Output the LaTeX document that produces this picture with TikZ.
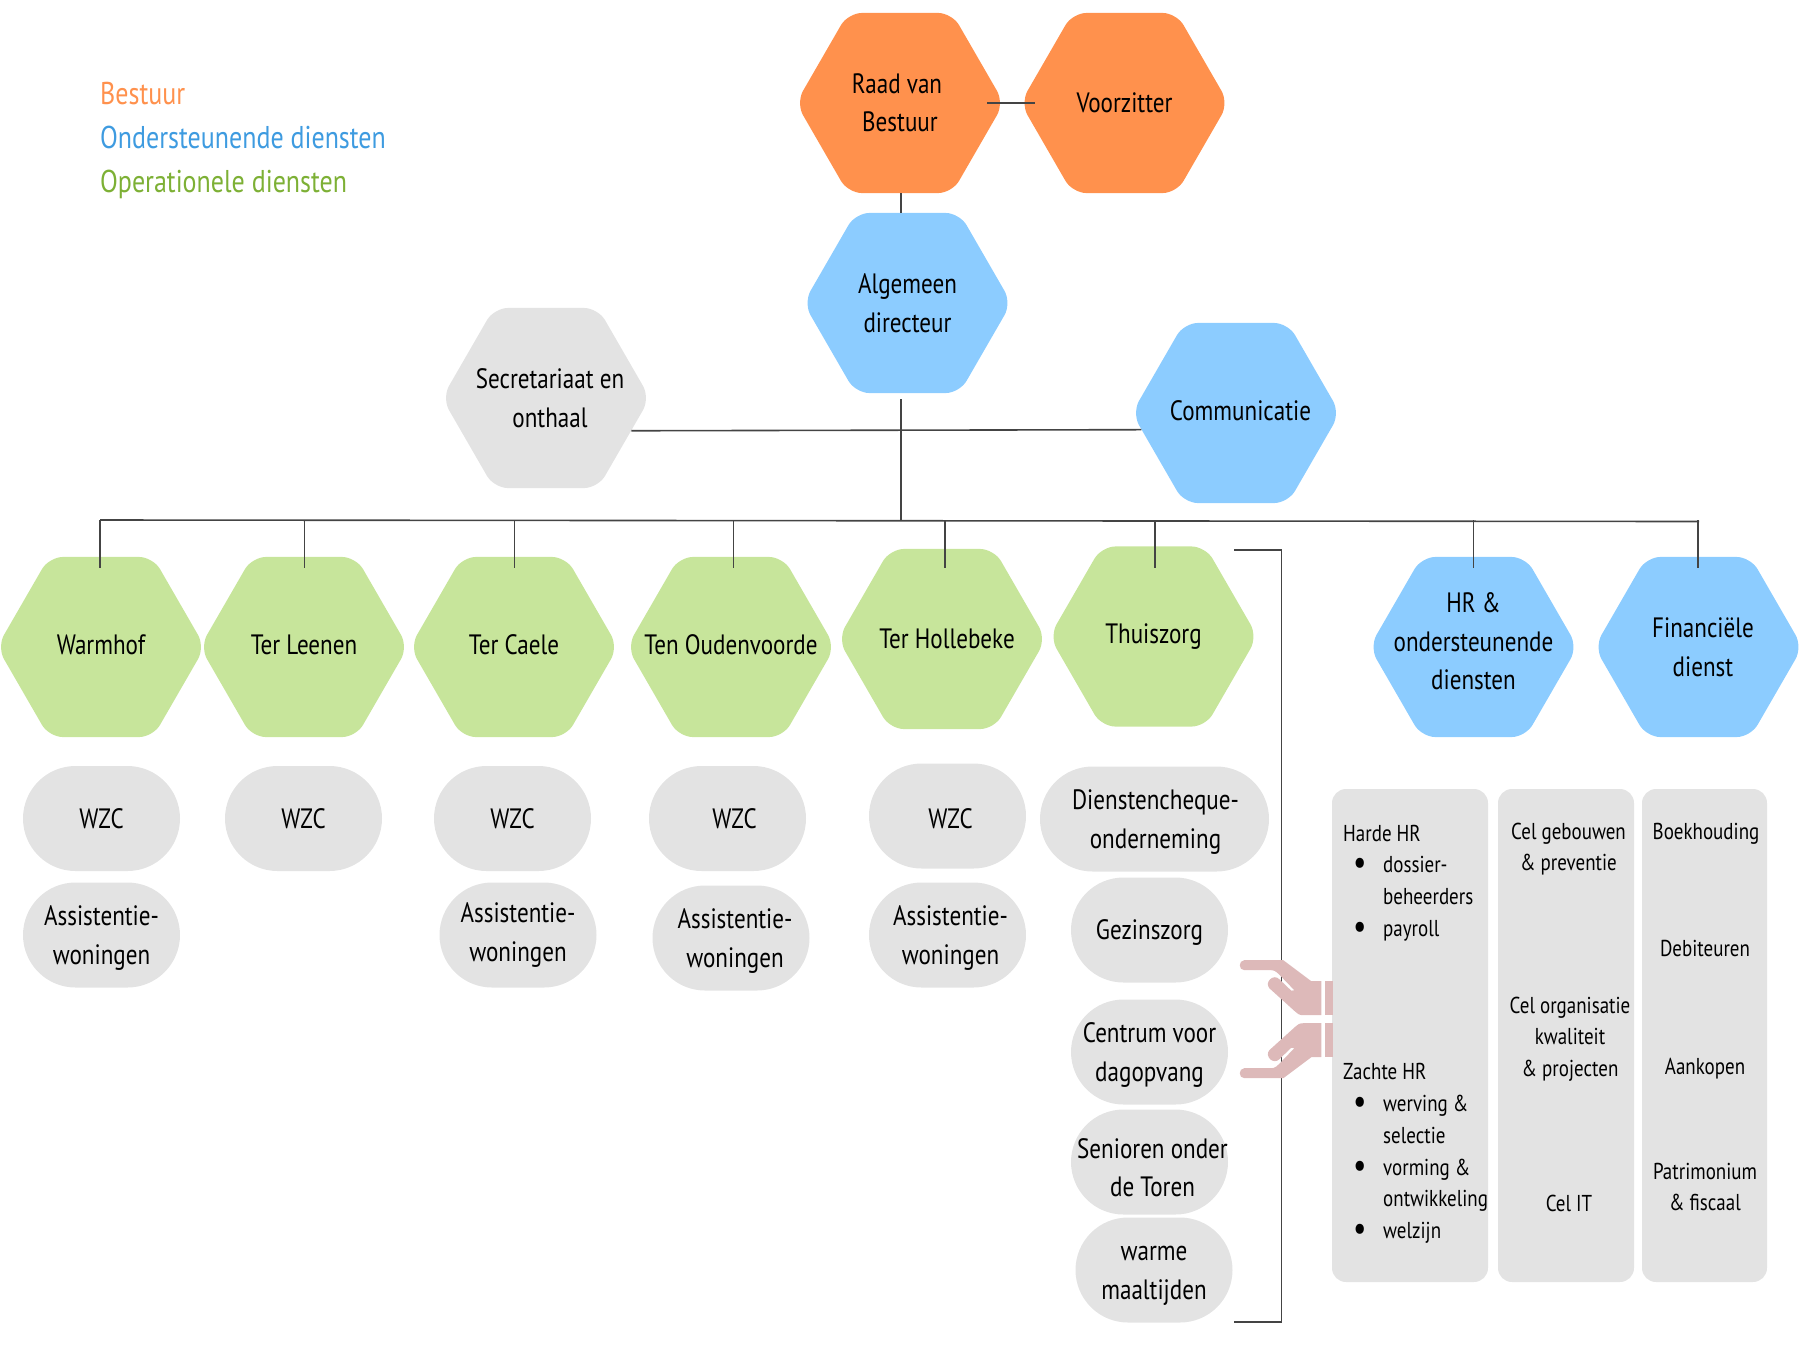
\documentclass[tikz,border=0pt]{standalone}
\usepackage{fontspec}
\setmainfont[FakeStretch=0.825]{PT Sans}
\usetikzlibrary{shapes.geometric,shapes.misc}

\definecolor{bestuurkleur}{HTML}{FF914D}
\definecolor{dienstkleur}{HTML}{8CCCFF}
\definecolor{zorgkleur}{HTML}{C7E59B}
\definecolor{grijskleur}{HTML}{E3E3E3}
\definecolor{lijnkleur}{HTML}{444444}
\definecolor{handkleur}{HTML}{DDB9B9}
\definecolor{legblauw}{HTML}{3E9BE0}
\definecolor{leggroen}{HTML}{7DB035}

\newcommand{\hrbullet}{\hspace*{10pt}\makebox[30pt][l]{\fontsize{36}{20}\selectfont\raisebox{-2pt}{\textbullet}}}
\newcommand{\hrvervolg}{\hspace*{40pt}}

\tikzset{
  hexnode/.style={regular polygon, regular polygon sides=6,
    minimum size=208pt, inner sep=-30pt, rounded corners=14pt, align=center,
    font=\fontsize{28}{38.5}\selectfont},
  pillnode/.style={rounded rectangle, fill=grijskleur, minimum width=157pt, minimum height=105pt,
    inner sep=0pt, align=center, text depth=0pt, font=\fontsize{28}{38.5}\selectfont},
  panelnode/.style={draw=none, fill=grijskleur, rounded corners=14pt, minimum height=493pt, inner sep=0pt},
  paneltext/.style={inner sep=0pt, align=center, font=\fontsize{23}{31.7}\selectfont},
  legendtext/.style={anchor=base west, inner sep=0pt, font=\fontsize{31.5}{36}\selectfont},
  conn/.style={draw=lijnkleur, line width=1.6pt},
  hand/.pic={
    \fill[handkleur] (-89,-59) -- (-50,-59) -- (-22,-38) -- (-12,-38) -- (-12,-4) -- (-30,-4)
      .. controls (-34,-4) and (-36,-5.5) .. (-38,-7.5) -- (-64,-31)
      .. controls (-69,-37) and (-60,-46) .. (-54,-40) -- (-42,-28.5) -- (-39,-29) -- (-52,-42.5)
      .. controls (-56,-46.5) and (-58,-49) .. (-62,-49) -- (-89,-49)
      .. controls (-95,-49) and (-95,-59) .. (-89,-59) -- cycle;
    \fill[handkleur] (-8,-38) rectangle (0,-4);
  }
}

\begin{document}
\begin{tikzpicture}[x=1pt,y=-1pt]
    \useasboundingbox (0,0) rectangle (1800,1350);

    % Legende
    \node[legendtext, text=bestuurkleur] (legbestuur) at (100,104) {Bestuur};
    \node[legendtext, text=legblauw] (legdiensten) at (100,148) {Ondersteunende diensten};
    \node[legendtext, text=leggroen] (legoperatie) at (100,192) {Operationele diensten};

    % Bestuur en ondersteuning
    \node[hexnode, fill=bestuurkleur] (raad) at (900,103) {Raad van\hspace*{6pt}\\Bestuur};
    \node[hexnode, fill=bestuurkleur] (voorz) at (1124.5,103) {Voorzitter};
    \node[hexnode, fill=dienstkleur] (alg) at (907.5,303) {Algemeen\\directeur};
    \node[hexnode, fill=grijskleur] (secr) at (546,398) {\hspace*{8pt}Secretariaat en\\\hspace*{8pt}onthaal};
    \node[hexnode, fill=dienstkleur, text depth=4.6pt] (comm) at (1236,413) {\hspace*{9pt}Communicatie};

    % Operationele diensten
    \node[hexnode, fill=zorgkleur, text depth=4.6pt] (warmhof) at (101,647) {Warmhof};
    \node[hexnode, fill=zorgkleur, text depth=4.6pt] (leenen) at (304,647) {Ter Leenen};
    \node[hexnode, fill=zorgkleur, text depth=4.6pt] (caele) at (514,647) {Ter Caele};
    \node[hexnode, fill=zorgkleur, text depth=4.6pt] (oudenv) at (731,647) {Ten Oudenvoorde};
    \node[hexnode, fill=zorgkleur] (holl) at (942,639) {\hspace*{10pt}Ter Hollebeke};
    \node[hexnode, fill=zorgkleur] (thuis) at (1153.5,636.5) {Thuiszorg};
    \node[hexnode, fill=dienstkleur, text depth=11.4pt] (hr) at (1473.5,647) {HR \&\\ondersteunende\\diensten};
    \node[hexnode, fill=dienstkleur] (fin) at (1698.5,647) {\hspace*{9pt}Financiële\\\hspace*{9pt}dienst};

    % WZC en assistentiewoningen
    \node[pillnode] (wzca) at (101.5,818.5) {WZC};
    \node[pillnode] (assa) at (101.5,935) {Assistentie-\\woningen};
    \node[pillnode] (wzcb) at (303.5,818.5) {WZC};
    \node[pillnode] (wzcc) at (512.5,818.5) {WZC};
    \node[pillnode, text depth=5.6pt] (assc) at (518,935) {Assistentie-\\woningen};
    \node[pillnode] (wzcd) at (727.5,818.5) {\hspace*{14pt}WZC};
    \node[pillnode] (assd) at (731,938) {\hspace*{8pt}Assistentie-\\\hspace*{8pt}woningen};
    \node[pillnode, text height=24pt] (wzce) at (947.5,816) {\hspace*{6pt}WZC};
    \node[pillnode] (asse) at (947.5,935) {\hspace*{6pt}Assistentie-\\\hspace*{6pt}woningen};

    % Thuiszorg
    \node[pillnode, minimum width=229pt] (dienstch) at (1154.5,819) {\hspace*{2pt}Dienstencheque-\\\hspace*{2pt}onderneming};
    \node[pillnode] (gezin) at (1149.5,930) {Gezinszorg};
    \node[pillnode] (dagopv) at (1149.5,1052) {Centrum voor\\dagopvang};
    \node[pillnode, text height=69pt] (senior) at (1149.5,1162) {\makebox[0pt]{\hspace*{6pt}Senioren onder}\\\makebox[0pt]{\hspace*{6pt}de Toren}};
    \node[pillnode, text height=58pt] (maalt) at (1154,1270) {warme\\maaltijden};

    % Panelen
    \node[panelnode, minimum width=156pt] (panelhr) at (1410,1035.5) {};
    \node[panelnode, minimum width=136pt] (panelcel) at (1566,1035.5) {};
    \node[panelnode, minimum width=125pt] (panelfin) at (1704.5,1035.5) {};

    \node[paneltext, anchor=west, align=left] (harde) at (1343,883) {Harde HR\\
      \hrbullet dossier-\\\hrvervolg beheerders\\\hrbullet payroll};
    \node[paneltext, anchor=west, align=left] (zachte) at (1343,1153.5) {Zachte HR\\
      \hrbullet werving \&\\\hrvervolg selectie\\\hrbullet vorming \&\\\hrvervolg ontwikkeling\\\hrbullet welzijn};

    \node[paneltext] (gebouw) at (1568.5,849) {Cel gebouwen\\\& preventie};
    \node[paneltext] (organ) at (1570,1039) {Cel organisatie\\kwaliteit\\\& projecten};
    \node[paneltext] (celit) at (1569,1203) {Cel IT};

    \node[paneltext] (boekh) at (1706,834) {Boekhouding};
    \node[paneltext] (debit) at (1705,948) {Debiteuren};
    \node[paneltext] (aank) at (1705,1069) {Aankopen};
    \node[paneltext] (patrim) at (1705,1187) {Patrimonium\\\& fiscaal};

    % Verbindingen
    \coordinate (buswest) at (100,520);
    \coordinate (buseast) at (1699,521.5);
    \coordinate (dropend) at (0,568);
    \coordinate (bracktop) at (1234,550);
    \coordinate (brackbot) at (1234,1322);

    \draw[conn] ([xshift=-17]raad.east) -- ([xshift=14.5]voorz.west);
    \draw[conn] ([xshift=1]raad.south) -- ([xshift=1]raad.south |- alg.north);
    \draw[conn] ([xshift=1,yshift=-6]raad.south |- alg.south) -- ([xshift=1]raad.south |- buswest);
    \draw[conn] (secr.-21) -- (comm.190);
    \draw[conn] (buswest) -- (buseast);
    \foreach \nm/\sh in {warmhof/-1, leenen/0.5, caele/0.5, oudenv/2.5, holl/3, thuis/1.5, hr/0, fin/-0.5}
        \draw[conn] ([xshift=\sh]\nm.north |- buswest) -- ([xshift=\sh]\nm.north |- dropend);
    \draw[conn] (bracktop) -- ++(47.5,0) |- (brackbot);

    % Handen
    \pic at (1333.3,1019.2) {hand};
    \pic[yscale=-1] at (1333.3,1019.2) {hand};
\end{tikzpicture}
\end{document}
